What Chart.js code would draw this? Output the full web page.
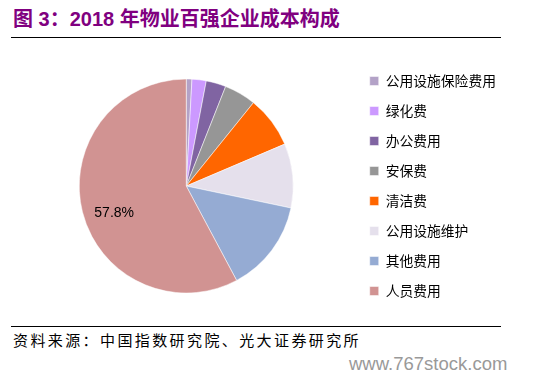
<!DOCTYPE html>
<html><head><meta charset="utf-8">
<script src="https://cdn.jsdelivr.net/npm/chart.js@4.4.1/dist/chart.umd.min.js"></script>
<style>
html,body{margin:0;padding:0;background:#fff;width:538px;height:380px;overflow:hidden;position:relative;font-family:"Noto Sans CJK SC",sans-serif;}
#title{position:absolute;left:13px;top:3px;font-size:20px;font-weight:bold;color:#800080;white-space:nowrap;font-family:"Liberation Sans","Noto Sans CJK SC",sans-serif;}
.rule{position:absolute;left:11px;width:490px;height:1px;background:#000;}
#src{position:absolute;left:13px;top:329px;font-size:15px;letter-spacing:2.4px;color:#000;white-space:nowrap;}
#wm{position:absolute;left:349px;top:353px;font-size:18.5px;color:#999;font-family:"Liberation Sans",sans-serif;white-space:nowrap;}
#c{position:absolute;left:0;top:40px;}
</style></head>
<body>
<div id="title">图 3：2018 年物业百强企业成本构成</div>
<div class="rule" style="top:37px"></div>
<canvas id="c" width="538" height="280"></canvas>
<div class="rule" style="top:326px"></div>
<div id="src">资料来源：中国指数研究院、光大证券研究所</div>
<div id="wm">www.767stock.com</div>
<script>
const categories = ['公用设施保险费用','绿化费','办公费用','安保费','清洁费','公用设施维护','其他费用','人员费用'];
const values = [0.85, 2.15, 3.0, 4.8, 7.8, 9.7, 13.9, 57.8];
const colors = ['#B3A2C7','#CC99FF','#8064A2','#969696','#FF6600','#E5E0EC','#95ABD3','#D19392'];
const labelShown = [false,false,false,false,false,false,false,true];

const labelPlugin = {
  id: 'sliceLabel',
  afterDatasetsDraw(chart) {
    const ctx = chart.ctx;
    const meta = chart.getDatasetMeta(0);
    meta.data.forEach((arc, i) => {
      if (!labelShown[i]) return;
      const mid = (arc.startAngle + arc.endAngle) / 2 - 0.115;
      const r = arc.outerRadius * 0.72;
      const x = arc.x + Math.cos(mid) * r;
      const y = arc.y + Math.sin(mid) * r;
      ctx.save();
      ctx.font = '14px "Liberation Sans","Noto Sans",sans-serif';
      ctx.fillStyle = '#000';
      ctx.textAlign = 'center';
      ctx.textBaseline = 'middle';
      ctx.fillText(values[i].toFixed(1) + '%', x, y);
      ctx.restore();
    });
  }
};

new Chart(document.getElementById('c'), {
  type: 'pie',
  data: {
    labels: categories,
    datasets: [{
      data: values,
      backgroundColor: colors,
      borderColor: '#ffffff',
      borderWidth: 0.5,
      radius: 107
    }]
  },
  options: {
    responsive: false,
    animation: false,
    layout: { padding: { left: 19, right: 32, top: 12, bottom: 0 } },
    plugins: {
      tooltip: { enabled: false },
      legend: {
        position: 'right',
        align: 'center',
        labels: {
          boxWidth: 9,
          boxHeight: 9,
          padding: 16.2,
          color: '#000',
          font: { size: 13.8, family: '"Noto Sans CJK SC", sans-serif' }
        }
      }
    }
  },
  plugins: [labelPlugin]
});
</script>
</body></html>
